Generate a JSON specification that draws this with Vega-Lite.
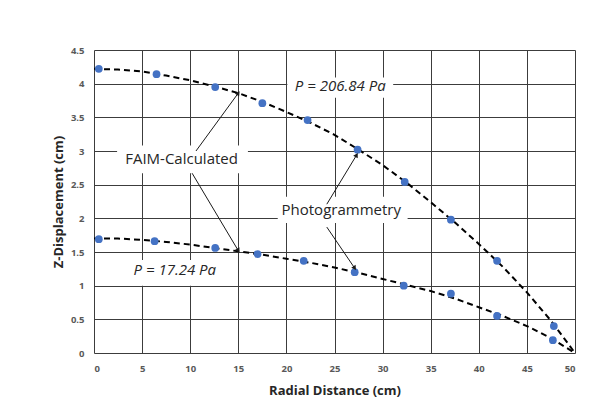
{
  "$schema": "https://vega.github.io/schema/vega-lite/v6.json",
  "autosize": {"type": "none"},
  "padding": {"left": 94, "top": 50, "right": 31, "bottom": 58},
  "width": 481,
  "height": 303,
  "background": "white",
  "config": {
    "view": {"stroke": null},
    "font": "Open Sans",
    "axis": {
      "grid": true,
      "gridColor": "#3c3c3c",
      "gridWidth": 1,
      "domain": false,
      "ticks": false,
      "labelOverlap": false,
      "labelFont": "Open Sans",
      "labelFontWeight": "bold",
      "labelFontSize": 9.5,
      "labelColor": "#595959",
      "titleFont": "Open Sans",
      "titleFontWeight": "bold",
      "titleFontSize": 13,
      "titleColor": "#262626"
    }
  },
  "datasets": {
    "curve": [
      {"r": 0, "z": 4.22, "series": "P = 206.84 Pa"},
      {"r": 2.5, "z": 4.21, "series": "P = 206.84 Pa"},
      {"r": 5, "z": 4.18, "series": "P = 206.84 Pa"},
      {"r": 7.5, "z": 4.12, "series": "P = 206.84 Pa"},
      {"r": 10, "z": 4.05, "series": "P = 206.84 Pa"},
      {"r": 12.5, "z": 3.96, "series": "P = 206.84 Pa"},
      {"r": 15, "z": 3.86, "series": "P = 206.84 Pa"},
      {"r": 17.5, "z": 3.73, "series": "P = 206.84 Pa"},
      {"r": 20, "z": 3.58, "series": "P = 206.84 Pa"},
      {"r": 22.5, "z": 3.42, "series": "P = 206.84 Pa"},
      {"r": 25, "z": 3.24, "series": "P = 206.84 Pa"},
      {"r": 27.5, "z": 3.02, "series": "P = 206.84 Pa"},
      {"r": 30, "z": 2.79, "series": "P = 206.84 Pa"},
      {"r": 32.5, "z": 2.53, "series": "P = 206.84 Pa"},
      {"r": 35, "z": 2.24, "series": "P = 206.84 Pa"},
      {"r": 37.5, "z": 1.94, "series": "P = 206.84 Pa"},
      {"r": 40, "z": 1.62, "series": "P = 206.84 Pa"},
      {"r": 42.5, "z": 1.28, "series": "P = 206.84 Pa"},
      {"r": 45, "z": 0.9, "series": "P = 206.84 Pa"},
      {"r": 47.5, "z": 0.48, "series": "P = 206.84 Pa"},
      {"r": 50, "z": 0, "series": "P = 206.84 Pa"},
      {"r": 0, "z": 1.7, "series": "P = 17.24 Pa"},
      {"r": 2.5, "z": 1.7, "series": "P = 17.24 Pa"},
      {"r": 5, "z": 1.68, "series": "P = 17.24 Pa"},
      {"r": 7.5, "z": 1.65, "series": "P = 17.24 Pa"},
      {"r": 10, "z": 1.61, "series": "P = 17.24 Pa"},
      {"r": 12.5, "z": 1.56, "series": "P = 17.24 Pa"},
      {"r": 15, "z": 1.51, "series": "P = 17.24 Pa"},
      {"r": 17.5, "z": 1.46, "series": "P = 17.24 Pa"},
      {"r": 20, "z": 1.4, "series": "P = 17.24 Pa"},
      {"r": 22.5, "z": 1.34, "series": "P = 17.24 Pa"},
      {"r": 25, "z": 1.27, "series": "P = 17.24 Pa"},
      {"r": 27.5, "z": 1.19, "series": "P = 17.24 Pa"},
      {"r": 30, "z": 1.1, "series": "P = 17.24 Pa"},
      {"r": 32.5, "z": 1.01, "series": "P = 17.24 Pa"},
      {"r": 35, "z": 0.92, "series": "P = 17.24 Pa"},
      {"r": 37.5, "z": 0.81, "series": "P = 17.24 Pa"},
      {"r": 40, "z": 0.68, "series": "P = 17.24 Pa"},
      {"r": 42.5, "z": 0.55, "series": "P = 17.24 Pa"},
      {"r": 45, "z": 0.4, "series": "P = 17.24 Pa"},
      {"r": 47.5, "z": 0.22, "series": "P = 17.24 Pa"},
      {"r": 50, "z": 0, "series": "P = 17.24 Pa"}
    ],
    "meas": [
      {"r": 0.5, "z": 4.22, "series": "P = 206.84 Pa"},
      {"r": 6.5, "z": 4.14, "series": "P = 206.84 Pa"},
      {"r": 12.6, "z": 3.95, "series": "P = 206.84 Pa"},
      {"r": 17.5, "z": 3.71, "series": "P = 206.84 Pa"},
      {"r": 22.2, "z": 3.46, "series": "P = 206.84 Pa"},
      {"r": 27.4, "z": 3.02, "series": "P = 206.84 Pa"},
      {"r": 32.3, "z": 2.54, "series": "P = 206.84 Pa"},
      {"r": 37.1, "z": 1.98, "series": "P = 206.84 Pa"},
      {"r": 41.9, "z": 1.37, "series": "P = 206.84 Pa"},
      {"r": 47.8, "z": 0.4, "series": "P = 206.84 Pa"},
      {"r": 0.5, "z": 1.69, "series": "P = 17.24 Pa"},
      {"r": 6.3, "z": 1.66, "series": "P = 17.24 Pa"},
      {"r": 12.6, "z": 1.56, "series": "P = 17.24 Pa"},
      {"r": 17.0, "z": 1.47, "series": "P = 17.24 Pa"},
      {"r": 21.8, "z": 1.37, "series": "P = 17.24 Pa"},
      {"r": 27.1, "z": 1.2, "series": "P = 17.24 Pa"},
      {"r": 32.2, "z": 1.0, "series": "P = 17.24 Pa"},
      {"r": 37.1, "z": 0.88, "series": "P = 17.24 Pa"},
      {"r": 41.9, "z": 0.55, "series": "P = 17.24 Pa"},
      {"r": 47.7, "z": 0.19, "series": "P = 17.24 Pa"}
    ],
    "arrows": [
      {"id": "a1", "r": 10.6, "z": 3.0, "r2": 15.0, "z2": 3.86},
      {"id": "a2", "r": 10.2, "z": 2.67, "r2": 15.0, "z2": 1.52},
      {"id": "a3", "r": 24.2, "z": 2.21, "r2": 27.3, "z2": 2.94},
      {"id": "a4", "r": 24.2, "z": 1.87, "r2": 27.1, "z2": 1.26}
    ],
    "heads": [
      {"id": "a1", "r": 15.0, "z": 3.86},
      {"id": "a2", "r": 15.0, "z": 1.52},
      {"id": "a3", "r": 27.3, "z": 2.94},
      {"id": "a4", "r": 27.1, "z": 1.26}
    ],
    "boxes": [
      {"r": 20.1, "r2": 31.1, "z": 3.79, "z2": 4.09},
      {"r": 2.7, "r2": 14.1, "z": 1.0, "z2": 1.38},
      {"r": 2.4, "r2": 16.0, "z": 2.67, "z2": 3.08},
      {"r": 19.1, "r2": 32.6, "z": 1.93, "z2": 2.32}
    ],
    "italic": [
      {"r": 25.6, "z": 3.96, "text": "P = 206.84 Pa"},
      {"r": 8.4, "z": 1.23, "text": "P = 17.24 Pa"}
    ],
    "plain": [
      {"r": 9.1, "z": 2.88, "text": "FAIM-Calculated"},
      {"r": 25.7, "z": 2.13, "text": "Photogrammetry"}
    ]
  },
  "encoding": {
    "x": {"field": "r", "type": "quantitative", "scale": {"domain": [0, 50], "nice": false},
          "axis": {"values": [0, 5, 10, 15, 20, 25, 30, 35, 40, 45, 50], "title": "Radial Distance (cm)", "labelPadding": 10, "titlePadding": 12}},
    "y": {"field": "z", "type": "quantitative", "scale": {"domain": [0, 4.5], "nice": false},
          "axis": {"values": [0, 0.5, 1, 1.5, 2, 2.5, 3, 3.5, 4, 4.5], "format": "~g", "title": "Z-Displacement (cm)", "labelPadding": 10, "titlePadding": 5}}
  },
  "layer": [
    {
      "data": {"name": "boxes"},
      "mark": {"type": "rect", "fill": "white", "stroke": null},
      "encoding": {"x2": {"field": "r2"}, "y2": {"field": "z2"}}
    },
    {
      "data": {"name": "curve"},
      "mark": {"type": "line", "color": "black", "strokeWidth": 2, "strokeDash": [6, 4]},
      "encoding": {"detail": {"field": "series"}}
    },
    {
      "data": {"name": "meas"},
      "mark": {"type": "point", "filled": true, "color": "#4472C4", "size": 60, "opacity": 1},
      "encoding": {}
    },
    {
      "data": {"name": "arrows"},
      "mark": {"type": "rule", "color": "#1a1a1a", "strokeWidth": 1},
      "encoding": {"x2": {"field": "r2"}, "y2": {"field": "z2"}}
    },
    {
      "data": {"name": "heads"},
      "transform": [{"filter": "datum.id === 'a1'"}],
      "mark": {"type": "point", "shape": "triangle-up", "filled": true, "color": "#1a1a1a", "size": 28, "angle": 36, "opacity": 1},
      "encoding": {}
    },
    {
      "data": {"name": "heads"},
      "transform": [{"filter": "datum.id === 'a2'"}],
      "mark": {"type": "point", "shape": "triangle-up", "filled": true, "color": "#1a1a1a", "size": 28, "angle": 150, "opacity": 1},
      "encoding": {}
    },
    {
      "data": {"name": "heads"},
      "transform": [{"filter": "datum.id === 'a3'"}],
      "mark": {"type": "point", "shape": "triangle-up", "filled": true, "color": "#1a1a1a", "size": 28, "angle": 31, "opacity": 1},
      "encoding": {}
    },
    {
      "data": {"name": "heads"},
      "transform": [{"filter": "datum.id === 'a4'"}],
      "mark": {"type": "point", "shape": "triangle-up", "filled": true, "color": "#1a1a1a", "size": 28, "angle": 146, "opacity": 1},
      "encoding": {}
    },
    {
      "data": {"name": "italic"},
      "mark": {"type": "text", "font": "Open Sans", "fontStyle": "italic", "fontSize": 15, "color": "#262626", "align": "center", "baseline": "middle"},
      "encoding": {"text": {"field": "text"}}
    },
    {
      "data": {"name": "plain"},
      "mark": {"type": "text", "font": "Open Sans", "fontSize": 15, "color": "#262626", "align": "center", "baseline": "middle"},
      "encoding": {"text": {"field": "text"}}
    }
  ]
}
